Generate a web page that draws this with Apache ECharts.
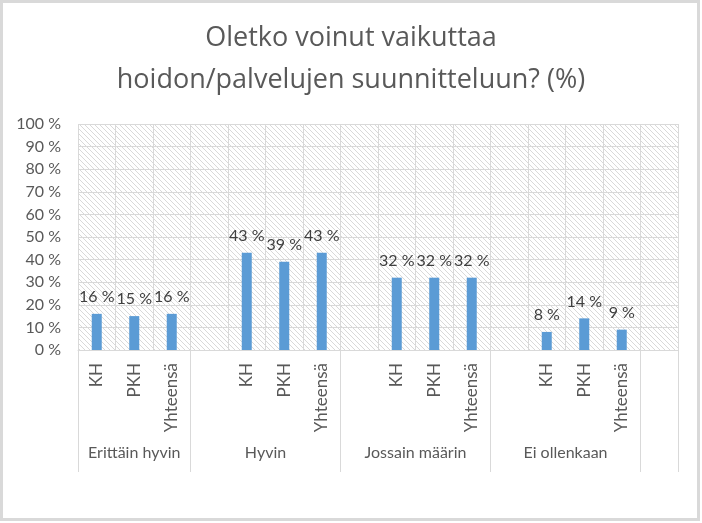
<!DOCTYPE html>
<html>
<head>
<meta charset="utf-8">
<script src="https://cdn.jsdelivr.net/npm/echarts@6/dist/echarts.min.js"></script>
<style>
  html, body { margin: 0; padding: 0; background: #fff; }
  #main { width: 702px; height: 523px; }
</style>
</head>
<body>
<div id="main"></div>
<script>
var titleText = 'Oletko voinut vaikuttaa\nhoidon/palvelujen suunnitteluun? (%)';
var groups = ['Erittäin hyvin', 'Hyvin', 'Jossain määrin', 'Ei ollenkaan'];
var subCats = ['KH', 'PKH', 'Yhteensä'];
var erittainHyvin = [16, 15, 16];
var hyvin = [43, 39, 43];
var jossainMaarin = [32, 32, 32];
var eiOllenkaan = [8, 14, 9];
var yTicks = [0, 10, 20, 30, 40, 50, 60, 70, 80, 90, 100];

// excel leaves an empty slot before every group except the first, plus one at the end
var groupValues = [erittainHyvin, hyvin, jossainMaarin, eiOllenkaan];
var categories = [];
var values = [];
var groupEdges = [];
var groupMiddles = [];
for (var g = 0; g < groups.length; g++) {
  if (g > 0) {
    categories.push('');
    values.push('-');
  }
  groupEdges.push(categories.length - (g > 0 ? 1 : 0));
  for (var k = 0; k < subCats.length; k++) {
    categories.push(subCats[k]);
    values.push(groupValues[g][k]);
  }
}
categories.push('');
values.push('-');
groupEdges.push(categories.length - 1, categories.length);
for (var g = 0; g < groups.length; g++) {
  groupMiddles.push((groupEdges[g] + groupEdges[g + 1]) / 2);
}

// hatched plot background
var hatch = document.createElement('canvas');
hatch.width = 5;
hatch.height = 5;
var hctx = hatch.getContext('2d');
hctx.fillStyle = '#ffffff';
hctx.fillRect(0, 0, 5, 5);
hctx.fillStyle = '#d9d9d9';
for (var i = 0; i < 5; i++) {
  hctx.fillRect(i, i, 1, 1);
}

var font = 'Lato';
var chart = echarts.init(document.getElementById('main'), null, { renderer: 'canvas' });

var option = {
  backgroundColor: '#ffffff',
  textStyle: { fontFamily: font },
  title: {
    text: titleText,
    left: 'center',
    top: 12,
    textStyle: {
      fontFamily: 'Open Sans',
      fontSize: 27,
      fontWeight: 'normal',
      color: '#595959',
      lineHeight: 42
    }
  },
  grid: {
    left: 78,
    right: 24,
    top: 124,
    bottom: 173,
    show: true,
    borderWidth: 0,
    backgroundColor: { image: hatch, repeat: 'repeat' },
    outerBoundsMode: 'none'
  },
  xAxis: [{
    type: 'category',
    data: categories,
    position: 'bottom',
    axisLine: { show: true, lineStyle: { color: '#d9d9d9', width: 1 } },
    axisTick: { show: false },
    splitLine: { show: true, interval: 0, lineStyle: { color: '#d9d9d9', width: 1 } },
    axisLabel: {
      interval: 0,
      rotate: 90,
      margin: 13,
      fontFamily: font,
      fontSize: 17,
      color: '#595959'
    }
  }, {
    type: 'value',
    min: 0,
    max: categories.length,
    position: 'bottom',
    axisLine: { show: false },
    splitLine: { show: false },
    axisTick: {
      show: true,
      customValues: groupEdges,
      length: 122,
      lineStyle: { color: '#d9d9d9', width: 1 }
    },
    axisLabel: {
      customValues: groupMiddles,
      margin: 95,
      fontFamily: font,
      fontSize: 16,
      color: '#595959',
      formatter: function (v) {
        var idx = groupMiddles.indexOf(v);
        return idx >= 0 ? groups[idx] : '';
      }
    }
  }],
  yAxis: {
    type: 'value',
    min: yTicks[0],
    max: yTicks[yTicks.length - 1],
    interval: 10,
    axisLine: { show: false },
    axisTick: { show: false },
    splitLine: { show: true, lineStyle: { color: '#d9d9d9', width: 1 } },
    axisLabel: {
      margin: 17,
      fontFamily: font,
      fontSize: 16,
      color: '#595959',
      formatter: '{value} %'
    }
  },
  series: [{
    type: 'bar',
    xAxisIndex: 0,
    data: values,
    barWidth: 10,
    itemStyle: { color: '#5b9bd5' },
    label: {
      show: true,
      position: 'top',
      distance: 9,
      fontFamily: font,
      fontSize: 16,
      color: '#404040',
      formatter: '{c} %'
    },
    animation: false
  }],
  graphic: [{
    type: 'rect',
    silent: true,
    shape: { x: 1.5, y: 1.5, width: 697, height: 518 },
    style: { fill: null, stroke: '#d9d9d9', lineWidth: 3 }
  }],
  animation: false
};

chart.setOption(option);
</script>
</body>
</html>
